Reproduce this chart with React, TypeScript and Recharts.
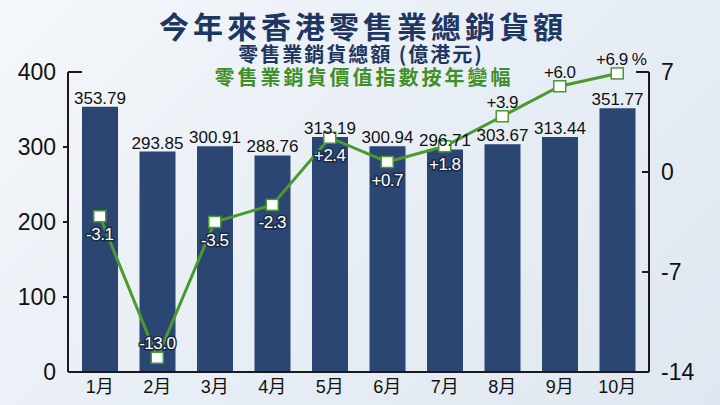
import React from 'react';
import { ComposedChart, Bar, Line, XAxis, YAxis, LabelList } from 'recharts';

const months = ['1月', '2月', '3月', '4月', '5月', '6月', '7月', '8月', '9月', '10月'];
const salesTotal = [353.79, 293.85, 300.91, 288.76, 313.19, 300.94, 296.71, 303.67, 313.44, 351.77];
const yoyChange = [-3.1, -13.0, -3.5, -2.3, 2.4, 0.7, 1.8, 3.9, 6.0, 6.9];
const leftTicks = [0, 100, 200, 300, 400];
const rightTicks = [-14, -7, 0, 7];

const data = months.map((m, i) => ({ month: m, sales: salesTotal[i], yoy: yoyChange[i] }));

const FONT = '"Liberation Sans", "Noto Sans CJK TC", sans-serif';
const CJK = '"Noto Sans CJK TC", "Noto Sans", sans-serif';
const NAVY = '#1e3662';
const BAR = '#2b4673';
const GREEN = '#4a9a30';
const AXIS = '#1a1a1a';

const LeftTick = (props: any) => {
  const { x, y, payload } = props;
  const ax = x + 10;
  const v = payload.value;
  return (
    <g>
      {v === 400 && <line x1={ax} y1={y} x2={ax + 14} y2={y} stroke={AXIS} strokeWidth={2} />}
      {v !== 400 && v !== 0 && <line x1={ax} y1={y} x2={ax - 5} y2={y} stroke={AXIS} strokeWidth={2} />}
      <text x={x - 2} y={y} textAnchor="end" dominantBaseline="central" fontSize={23} fill="#111" fontFamily={FONT}>
        {v}
      </text>
    </g>
  );
};

const RightTick = (props: any) => {
  const { x, y, payload } = props;
  const ax = x - 10;
  const v = payload.value;
  return (
    <g>
      {v === 7 && <line x1={ax} y1={y} x2={ax - 13} y2={y} stroke={AXIS} strokeWidth={2} />}
      {v !== 7 && v !== -14 && <line x1={ax} y1={y} x2={ax - 7} y2={y} stroke={AXIS} strokeWidth={2} />}
      <text x={x + 2} y={y} textAnchor="start" dominantBaseline="central" fontSize={23} fill="#111" fontFamily={FONT}>
        {v}
      </text>
    </g>
  );
};

const Marker = (props: any) => {
  const { cx, cy, index } = props;
  return (
    <rect key={`m-${index}`} x={cx - 6} y={cy - 5.5} width={12} height={11} fill="#ffffff" stroke={GREEN} strokeWidth={1.5} />
  );
};

const fmt = (v: number) => (v > 0 ? '+' : '') + v.toFixed(1);

const LineLabel = (props: any) => {
  const { x, y, value, index } = props;
  const above = value > 3 || value < -10;
  const outlined = value <= 3;
  const isLast = index === yoyChange.length - 1;
  const text = fmt(value) + (isLast ? ' %' : '');
  const ty = above ? y - 14 : y + 18;
  const tx = isLast ? x + 4 : x;
  return (
    <text
      x={tx}
      y={ty}
      textAnchor="middle"
      dominantBaseline="central"
      fontSize={17}
      fontFamily={FONT}
      fill={outlined ? '#ffffff' : '#111'}
      stroke={outlined ? '#1b2b45' : 'none'}
      strokeWidth={outlined ? 3 : 0}
      paintOrder="stroke"
      letterSpacing={-0.5}
    >
      {text}
    </text>
  );
};

export default function App() {
  return (
    <div
      style={{
        position: 'absolute',
        left: 0,
        top: 0,
        width: 720,
        height: 405,
        overflow: 'hidden',
        background: 'linear-gradient(135deg, #f4f7fb 0%, #e8eef5 50%, #dfe7f0 100%)',
      }}
    >
      <div
        style={{
          position: 'absolute',
          left: 0,
          width: 726,
          top: 10,
          textAlign: 'center',
          fontFamily: CJK,
          fontWeight: 700,
          fontSize: 30,
          letterSpacing: 4,
          color: NAVY,
          lineHeight: '31px',
        }}
      >
        今年來香港零售業總銷貨額
      </div>
      <div
        style={{
          position: 'absolute',
          left: 0,
          width: 722,
          top: 44,
          textAlign: 'center',
          fontFamily: CJK,
          fontWeight: 700,
          fontSize: 20,
          letterSpacing: 2,
          color: NAVY,
          lineHeight: '20px',
        }}
      >
        零售業銷貨總額 (億港元)
      </div>
      <div
        style={{
          position: 'absolute',
          left: 0,
          width: 728,
          top: 66,
          textAlign: 'center',
          fontFamily: CJK,
          fontWeight: 700,
          fontSize: 20,
          letterSpacing: 3,
          color: '#3f8f2b',
          lineHeight: '21px',
        }}
      >
        零售業銷貨價值指數按年變幅
      </div>
      <div style={{ position: 'absolute', left: 0, top: 0 }}>
        <ComposedChart width={720} height={405} data={data} margin={{ top: 72, right: 0, bottom: 0, left: 0 }}>
          <XAxis
            dataKey="month"
            height={33}
            padding={{ left: 3, right: 3 }}
            axisLine={{ stroke: AXIS, strokeWidth: 2 }}
            tickLine={false}
            tick={{ fontSize: 18, fill: '#111', fontFamily: FONT }}
            interval={0}
          />
          <YAxis
            yAxisId="left"
            orientation="left"
            width={68}
            domain={[0, 400]}
            ticks={leftTicks}
            axisLine={{ stroke: AXIS, strokeWidth: 2 }}
            tickLine={false}
            tickSize={0}
            tickMargin={10}
            tick={<LeftTick />}
            interval={0}
          />
          <YAxis
            yAxisId="right"
            orientation="right"
            width={71}
            domain={[-14, 7]}
            ticks={rightTicks}
            axisLine={{ stroke: AXIS, strokeWidth: 2 }}
            tickLine={false}
            tickSize={0}
            tickMargin={10}
            tick={<RightTick />}
            interval={0}
          />
          <Bar yAxisId="left" dataKey="sales" fill={BAR} barSize={36} isAnimationActive={false}>
            <LabelList
              dataKey="sales"
              position="top"
              offset={3}
              fontSize={17}
              fill="#111"
              fontFamily={FONT}
              formatter={(v: any) => Number(v).toFixed(2)}
            />
          </Bar>
          <Line
            yAxisId="right"
            dataKey="yoy"
            stroke={GREEN}
            strokeWidth={3}
            dot={<Marker />}
            activeDot={false}
            isAnimationActive={false}
          >
            <LabelList dataKey="yoy" content={<LineLabel />} />
          </Line>
        </ComposedChart>
      </div>
    </div>
  );
}
